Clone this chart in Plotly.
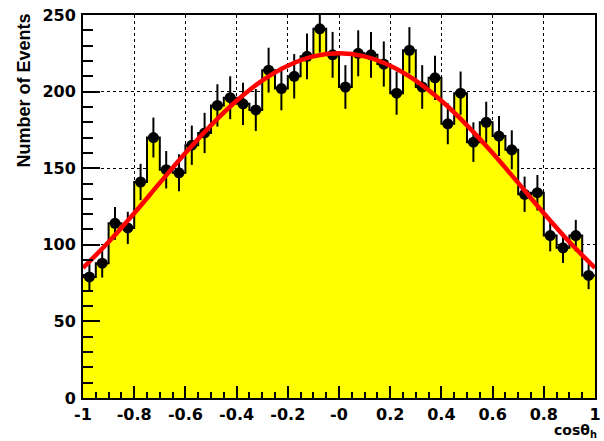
import numpy as np
import plotly.graph_objects as go

# ---- data ----
bin_edges_lo = [round(-1.0 + 0.05 * i, 3) for i in range(40)]
bin_width = 0.05
counts = [79, 88, 114, 111, 141, 170, 149, 147, 165, 173,
          191, 196, 192, 188, 214, 202, 210, 223, 241, 224,
          203, 225, 224, 218, 199, 227, 203, 209, 179, 199,
          167, 180, 171, 162, 133, 134, 106, 98, 106, 80]

fit_x = [-1.0, -0.9, -0.8, -0.7, -0.6, -0.5, -0.4, -0.3, -0.2, -0.1, 0.0,
         0.1, 0.2, 0.3, 0.4, 0.5, 0.6, 0.7, 0.8, 0.9, 1.0]
fit_y = [85, 101.8, 120.6, 140.4, 159.9, 178.0, 194.0, 207.2, 216.9, 223.0, 225,
         223.0, 216.9, 207.2, 194.0, 178.0, 159.9, 140.4, 120.6, 101.8, 85]

x_tick_vals = [-1, -0.8, -0.6, -0.4, -0.2, 0, 0.2, 0.4, 0.6, 0.8, 1]
x_tick_text = ["-1", "-0.8", "-0.6", "-0.4", "-0.2", "-0", "0.2", "0.4", "0.6", "0.8", "1"]
y_tick_vals = [0, 50, 100, 150, 200, 250]
y_tick_text = ["0", "50", "100", "150", "200", "250"]

# ---- derived ----
centers = [lo + bin_width / 2 for lo in bin_edges_lo]
step_x = bin_edges_lo + [bin_edges_lo[-1] + bin_width]
step_y = counts + [counts[-1]]
errors = [float(np.sqrt(c)) for c in counts]

fig = go.Figure()

fig.add_trace(go.Scatter(
    x=step_x, y=step_y, mode="lines", line_shape="hv",
    line=dict(color="black", width=2),
    fill="tozeroy", fillcolor="#ffff00",
    hoverinfo="skip", showlegend=False))

fig.add_trace(go.Scatter(
    x=centers, y=counts, mode="markers",
    marker=dict(color="black", size=11, symbol="circle"),
    error_y=dict(type="data", array=errors, visible=True,
                 color="black", thickness=2, width=0),
    showlegend=False))

fig.add_trace(go.Scatter(
    x=fit_x, y=fit_y, mode="lines", line_shape="spline",
    line=dict(color="#ff0000", width=4.5),
    showlegend=False))

tickfont = dict(family="DejaVu Sans", size=16, color="black", weight="bold")

fig.update_layout(
    width=604, height=441,
    margin=dict(l=83, r=3, t=15, b=43),
    paper_bgcolor="white", plot_bgcolor="white",
    xaxis=dict(
        range=[-1, 1], tickvals=x_tick_vals, ticktext=x_tick_text,
        ticks="inside", ticklen=12, tickwidth=2, tickcolor="black",
        minor=dict(ticks="inside", dtick=0.05, tick0=-1, ticklen=6,
                   tickwidth=2, tickcolor="black", showgrid=False),
        showline=True, linecolor="black", linewidth=2, mirror=True,
        showgrid=True, gridcolor="black", gridwidth=1, griddash="3px,3px",
        zeroline=False, tickfont=tickfont, ticklabelstandoff=1,
        ticklabeloverflow="allow",
    ),
    yaxis=dict(
        range=[0, 250], tickvals=y_tick_vals, ticktext=y_tick_text,
        ticks="inside", ticklen=17, tickwidth=2, tickcolor="black",
        minor=dict(ticks="inside", dtick=10, tick0=0, ticklen=10,
                   tickwidth=2, tickcolor="black", showgrid=False),
        showline=True, linecolor="black", linewidth=2, mirror=True,
        showgrid=True, gridcolor="black", gridwidth=1, griddash="3px,3px",
        zeroline=False, tickfont=tickfont, ticklabelstandoff=2,
        ticklabeloverflow="allow",
    ),
    annotations=[
        dict(text="Number of Events", xref="paper", yref="paper",
             x=-0.116, y=1.008, xanchor="center", yanchor="top",
             textangle=-90, showarrow=False,
             font=dict(family="Liberation Sans", size=18, color="black", weight="bold")),
        dict(text="cosθ<sub>h</sub>", xref="paper", yref="paper",
             x=1.005, y=-0.1123, xanchor="right", yanchor="bottom",
             showarrow=False, borderpad=0,
             font=dict(family="DejaVu Sans", size=14, color="black", weight="bold")),
    ],
)

fig.write_html("out.html")
